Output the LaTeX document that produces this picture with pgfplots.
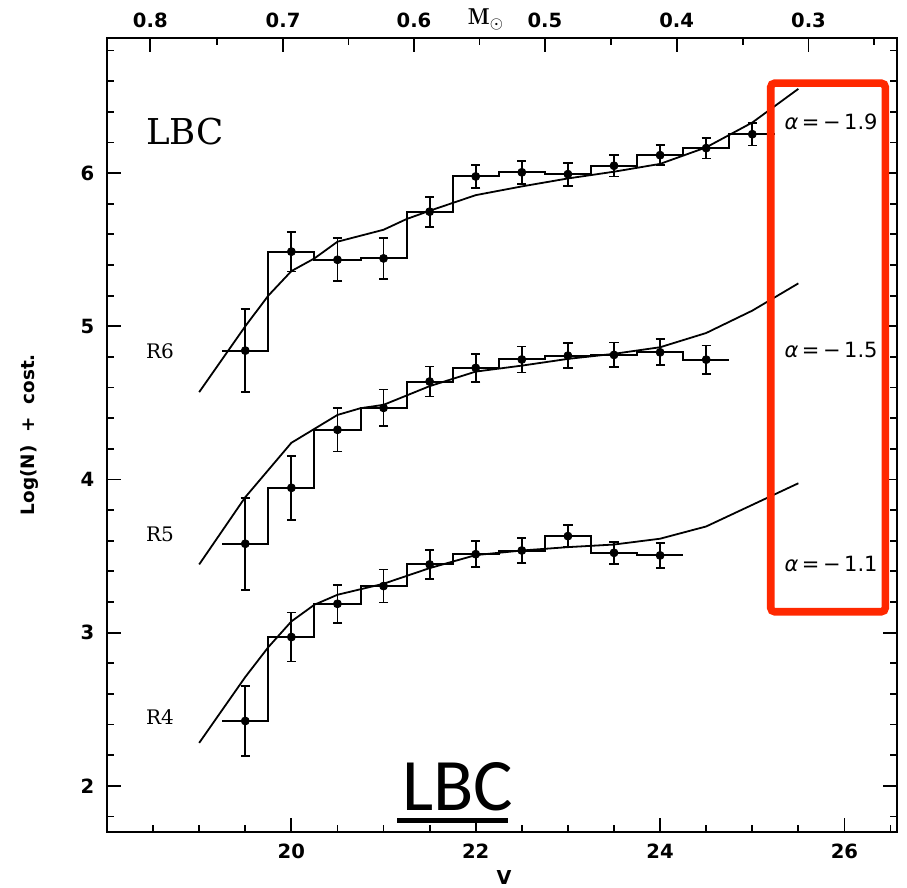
\documentclass[border=0pt]{standalone}
\usepackage{fontspec}
\usepackage{pgfplots}
\pgfplotsset{compat=1.18}
\newfontfamily\tickfont{DejaVu Sans}
\newfontfamily\serfont{DejaVu Serif}
\newfontfamily\alphafont{DejaVu Sans}
\newfontfamily\bigfont{Carlito}
\definecolor{boxred}{RGB}{255,40,0}
\pgfplotsset{
  base/.style={
    scale only axis, width=395pt, height=396.7pt,
    xmin=18, xmax=26.57, ymin=1.7, ymax=6.88,
    tick align=inside,
    major tick length=7pt, minor tick length=3.5pt,
    every tick/.style={black, line width=0.9pt},
    axis line style={line width=1.1pt},
    tick label style={font=\tickfont\bfseries\fontsize{9.8}{11}\selectfont},
    /pgf/number format/assume math mode=true,
    clip=false,
  }
}
\begin{document}
\begin{tikzpicture}
\begin{axis}[base, name=main,
  xtick={20,22,24,26}, minor xtick={18.5,19,...,26.5},
  ytick={2,3,4,5,6},
  minor ytick={1.8,2.2,2.4,2.6,2.8,3.2,3.4,3.6,3.8,4.2,4.4,4.6,4.8,5.2,5.4,5.6,5.8,6.2,6.4,6.6,6.8},
  xtick pos=left, ytick pos=both, yticklabel pos=left,
  xticklabel style={yshift=-2.5pt}, yticklabel style={xshift=-2.8pt},
  xlabel={V},
  xlabel style={at={(axis description cs:0.5025,-0.0575)}, anchor=center, font=\tickfont\bfseries\fontsize{9.6}{11}\selectfont},
  ylabel={Log(N)\ \ +\ \ cost.},
  ylabel style={at={(axis description cs:-0.0987,0.5004)}, anchor=center, font=\tickfont\bfseries\fontsize{9.2}{11}\selectfont},
]
% ---------- R6 ----------
\addplot[const plot, black, line width=1pt] coordinates {
 (19.25,4.841) (19.75,5.487) (20.25,5.434) (20.75,5.443) (21.25,5.748) (21.75,5.978)
 (22.25,6.005) (22.75,5.993) (23.25,6.048) (23.75,6.117) (24.25,6.163) (24.75,6.254) (25.25,6.254)};
\addplot[black, line width=0.9pt] coordinates {
 (19.0,4.57) (19.5,5.00) (19.75,5.20) (20.0,5.36) (20.25,5.443) (20.5,5.552) (21.0,5.63)
 (21.25,5.70) (21.5,5.754) (22.0,5.856) (22.5,5.913) (23.0,5.965) (23.5,6.009) (24.0,6.06)
 (24.5,6.168) (25.0,6.33) (25.5,6.55)};
\addplot[only marks, mark=*, mark size=2pt, black,
  error bars/.cd, y dir=both, y explicit,
  error bar style={line width=0.9pt, black},
  error mark options={rotate=90, mark size=2.3pt, line width=0.9pt, black}] coordinates {
 (19.5,4.841) +- (0,0.27) (20.0,5.487) +- (0,0.13) (20.5,5.434) +- (0,0.14)
 (21.0,5.443) +- (0,0.135) (21.5,5.748) +- (0,0.098) (22.0,5.978) +- (0,0.076)
 (22.5,6.005) +- (0,0.074) (23.0,5.993) +- (0,0.075) (23.5,6.048) +- (0,0.07)
 (24.0,6.117) +- (0,0.065) (24.5,6.163) +- (0,0.068) (25.0,6.254) +- (0,0.074)};
% ---------- R5 ----------
\addplot[const plot, black, line width=1pt] coordinates {
 (19.25,3.580) (19.75,3.945) (20.25,4.324) (20.75,4.467) (21.25,4.639) (21.75,4.728)
 (22.25,4.783) (22.75,4.808) (23.25,4.813) (23.75,4.830) (24.25,4.782) (24.75,4.782)};
\addplot[black, line width=0.9pt] coordinates {
 (19.0,3.445) (19.5,3.884) (20.0,4.239) (20.25,4.33) (20.5,4.421) (20.75,4.465) (21.0,4.487)
 (21.5,4.609) (22.0,4.704) (22.5,4.743) (23.0,4.787) (23.5,4.82) (24.0,4.863) (24.5,4.956)
 (25.0,5.102) (25.5,5.28)};
\addplot[only marks, mark=*, mark size=2pt, black,
  error bars/.cd, y dir=both, y explicit,
  error bar style={line width=0.9pt, black},
  error mark options={rotate=90, mark size=2.3pt, line width=0.9pt, black}] coordinates {
 (19.5,3.580) +- (0,0.30) (20.0,3.945) +- (0,0.21) (20.5,4.324) +- (0,0.142)
 (21.0,4.467) +- (0,0.12) (21.5,4.639) +- (0,0.098) (22.0,4.728) +- (0,0.092)
 (22.5,4.783) +- (0,0.085) (23.0,4.808) +- (0,0.081) (23.5,4.813) +- (0,0.081)
 (24.0,4.830) +- (0,0.085) (24.5,4.782) +- (0,0.092)};
% ---------- R4 ----------
\addplot[const plot, black, line width=1pt] coordinates {
 (19.25,2.423) (19.75,2.971) (20.25,3.188) (20.75,3.304) (21.25,3.445) (21.75,3.512)
 (22.25,3.536) (22.75,3.630) (23.25,3.521) (23.75,3.504) (24.25,3.504)};
\addplot[black, line width=0.9pt] coordinates {
 (19.0,2.28) (19.5,2.71) (19.75,2.905) (20.0,3.073) (20.25,3.182) (20.5,3.247) (21.0,3.319)
 (21.5,3.421) (22.0,3.506) (22.5,3.536) (23.0,3.558) (23.5,3.575) (24.0,3.613) (24.5,3.693)
 (25.0,3.834) (25.5,3.975)};
\addplot[only marks, mark=*, mark size=2pt, black,
  error bars/.cd, y dir=both, y explicit,
  error bar style={line width=0.9pt, black},
  error mark options={rotate=90, mark size=2.3pt, line width=0.9pt, black}] coordinates {
 (19.5,2.423) +- (0,0.23) (20.0,2.971) +- (0,0.16) (20.5,3.188) +- (0,0.124)
 (21.0,3.304) +- (0,0.108) (21.5,3.445) +- (0,0.094) (22.0,3.512) +- (0,0.085)
 (22.5,3.536) +- (0,0.081) (23.0,3.630) +- (0,0.07) (23.5,3.521) +- (0,0.073)
 (24.0,3.504) +- (0,0.083)};
% ---------- labels ----------
\node[anchor=base west, inner sep=0, font=\serfont\fontsize{17.8}{20}\selectfont] at (axis cs:18.42,6.185) {LBC};
\node[anchor=base west, inner sep=0, font=\serfont\fontsize{10}{11}\selectfont] at (axis cs:18.42,4.79) {R6};
\node[anchor=base west, inner sep=0, font=\serfont\fontsize{10}{11}\selectfont] at (axis cs:18.42,3.595) {R5};
\node[anchor=base west, inner sep=0, font=\serfont\fontsize{10}{11}\selectfont] at (axis cs:18.42,2.40) {R4};
\node[anchor=base, inner sep=0, font=\alphafont\fontsize{10.5}{12}\selectfont] at (axis cs:25.855,6.287) {{\itshape α}\,=\,−\,1.9};
\node[anchor=base, inner sep=0, font=\alphafont\fontsize{10.5}{12}\selectfont] at (axis cs:25.855,4.798) {{\itshape α}\,=\,−\,1.5};
\node[anchor=base, inner sep=0, font=\alphafont\fontsize{10.5}{12}\selectfont] at (axis cs:25.855,3.40) {{\itshape α}\,=\,−\,1.1};
\node[anchor=base west, inner sep=0, font=\bigfont\fontsize{37}{40}\selectfont] at (axis cs:21.20,1.84) {LBC};
\draw[black, line width=2.5pt] (axis cs:21.146,1.775) -- (axis cs:22.346,1.775);
\draw[boxred, line width=3.8pt, rounded corners=2pt] (axis cs:25.2,6.587) rectangle (axis cs:26.443,3.136);
\node[anchor=base, inner sep=0, font=\fontsize{11.5}{12}\selectfont] at (axis description cs:0.4797,1.0168) {$\mathbf{M}_{\odot}$};
\end{axis}
\begin{axis}[base, at={(main.south west)}, anchor=south west,
  axis x line*=top, axis y line=none, tick align=inside,
  xtick={18.47,19.91,21.33,22.75,24.18,25.61},
  xticklabels={0.8,0.7,0.6,0.5,0.4,0.3},
  minor xtick={19.19,20.62,22.04,23.465,24.895,26.32},
  xticklabel style={yshift=1.8pt},
]
\addplot[draw=none] coordinates {(20,3)};
\end{axis}
\pgfresetboundingbox
\path[use as bounding box] ([xshift=-53.5pt,yshift=-27.65pt]main.south west) rectangle ([xshift=5pt,yshift=19.15pt]main.north east);
\end{tikzpicture}
\end{document}
